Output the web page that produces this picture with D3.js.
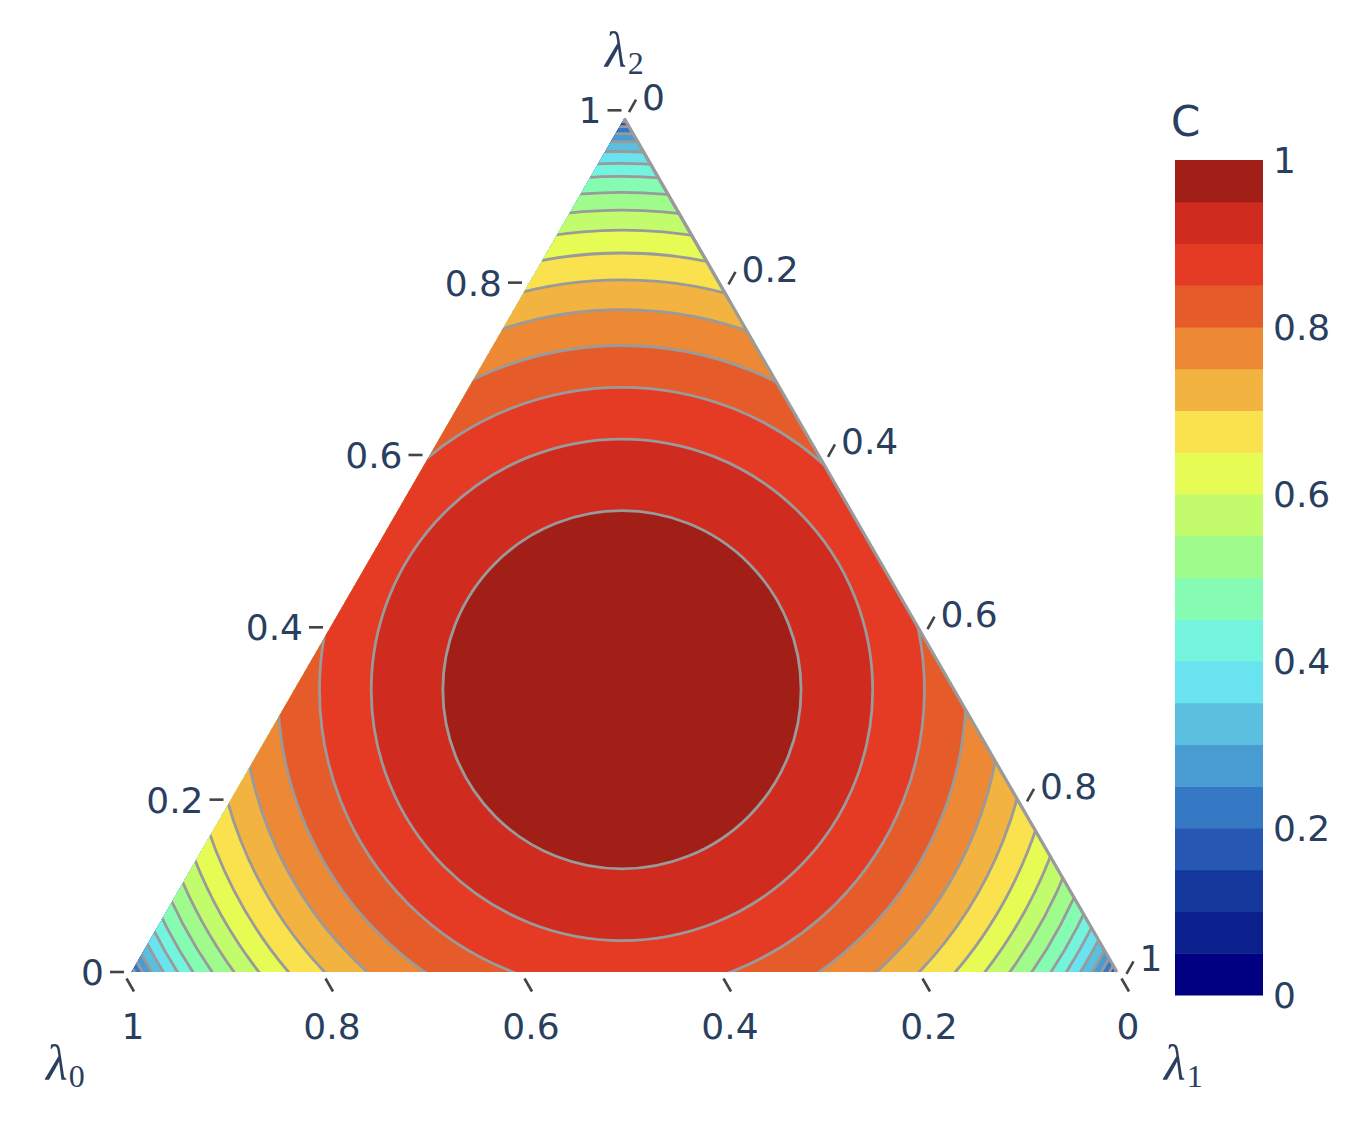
<!DOCTYPE html>
<html><head><meta charset="utf-8">
<script src="https://cdn.jsdelivr.net/npm/d3@7"></script>
<style>body{margin:0;background:#fff}svg{display:block}</style>
</head><body>
<svg id="chart" width="1362" height="1122"></svg>
<script>
// ---- data ----
const levels = [0.00,0.05,0.10,0.15,0.20,0.25,0.30,0.35,0.40,0.45,0.50,0.55,0.60,0.65,0.70,0.75,0.80,0.85,0.90,0.95];
const bandColors = ["#000080","#0b1f8d","#14379c","#2658b3","#3578c3","#499cd1","#5bbfe0","#69e3ef","#74f4dd","#86fcb3",
                    "#a0fb8d","#c2fb6b","#e7fb55","#f9e24e","#f2b340","#ed8834","#e55b2a","#e53a24","#cf2b1f","#a11f17"];
// radius of each level's contour around the centre, as fraction of the triangle side
const contourRadius = [0.577,0.577,0.575,0.571,0.566,0.559,0.551,0.541,0.529,0.516,0.500,0.482,0.462,0.439,0.412,0.382,0.346,0.304,0.252,0.180];
// centre of the contour rings (λ0, λ1, λ2)
const contourCentre = [0.3368, 0.3357, 0.3275];
const axisTicks = [0,0.2,0.4,0.6,0.8,1];
const axisTickLabels = ["0","0.2","0.4","0.6","0.8","1"];
const cbTicks = [0,0.2,0.4,0.6,0.8,1];
const cbTickLabels = ["0","0.2","0.4","0.6","0.8","1"];

// ---- layout ----
const svg = d3.select("#chart");
const BL = {x:125, y:972}, BR = {x:1120, y:972};
const L = BR.x - BL.x;
const H = L*Math.sqrt(3)/2;
const xScale = d3.scaleLinear().domain([0,1]).range([BL.x, BR.x]);
const yScale = d3.scaleLinear().domain([0,1]).range([BL.y, BL.y - H]);
const rScale = d3.scaleLinear().domain([0,1]).range([0, L]);
// l0 -> bottom-left, l1 -> bottom-right, l2 -> top
function proj(l0,l1,l2){ return [xScale(l1 + l2/2), yScale(l2)]; }
const A = proj(0,0,1), B = proj(1,0,0), Cc = proj(0,1,0);
const centre = proj(...contourCentre);

const textColor = "#2a3f5f";
const font = "'DejaVu Sans', Verdana, sans-serif";

// filled area stops a few pixels short of the vertices (as in the picture)
const fB = [B[0]+6.5, B[1]], fC = [Cc[0]-3, Cc[1]];
const fA = [(fB[0]+fC[0])/2, B[1] - (fC[0]-fB[0])*Math.sqrt(3)/2];

svg.append("clipPath").attr("id","tri").append("path")
  .attr("d", d3.line()([fA,fB,fC]) + "Z");

const g = svg.append("g").attr("clip-path","url(#tri)");
g.append("path").attr("d", d3.line()([fA,fB,fC]) + "Z").attr("fill", bandColors[0]);
const lineGrey = "#9a9a9a";
levels.forEach((lv,i)=>{
  if(i===0) return;
  g.append("circle").attr("cx", centre[0]).attr("cy", centre[1])
    .attr("r", rScale(contourRadius[i]))
    .attr("fill", bandColors[i]).attr("stroke", lineGrey).attr("stroke-width", 2.8);
});
// boundary artefacts (grey edge lines)
svg.append("path").attr("d", d3.line()([fA, fC])).attr("stroke", lineGrey).attr("stroke-width",3.2).attr("fill","none");
const leftStop = [fA[0] - (fA[1]-300)/Math.sqrt(3), 300];
svg.append("path").attr("d", d3.line()([fA, leftStop])).attr("stroke", lineGrey).attr("stroke-width",3).attr("fill","none");

// ---- axes ----
const tickColor = "#444";
const ax = svg.append("g");
// left edge : lambda_2
axisTicks.forEach((v,i)=>{
  const p = proj(1-v,0,v);
  ax.append("line").attr("x1",p[0]-15).attr("x2",p[0]-1).attr("y1",p[1]).attr("y2",p[1])
    .attr("stroke",tickColor).attr("stroke-width",2.6);
  ax.append("text").attr("x",p[0]-21).attr("y",p[1]).attr("dy","0.36em")
    .attr("text-anchor","end").attr("font-family",font).attr("font-size",36).attr("fill",textColor)
    .text(axisTickLabels[i]);
});
// bottom edge : lambda_0
axisTicks.forEach((v,i)=>{
  const p = proj(v,1-v,0);
  const sx = p[0]+1.5, sy = p[1]+6.5;
  ax.append("line").attr("x1",sx).attr("y1",sy).attr("x2",sx+7.5).attr("y2",sy+13)
    .attr("stroke",tickColor).attr("stroke-width",2.6);
  ax.append("text").attr("x",p[0]+8).attr("y",p[1]+67)
    .attr("text-anchor","middle").attr("font-family",font).attr("font-size",36).attr("fill",textColor)
    .text(axisTickLabels[i]);
});
// right edge : lambda_1
axisTicks.forEach((v,i)=>{
  const p = proj(0,v,1-v);
  const sx = p[0]+6.5, sy = p[1]+1.8;
  const ex = sx+7, ey = sy-12.5;
  ax.append("line").attr("x1",sx).attr("y1",sy).attr("x2",ex).attr("y2",ey)
    .attr("stroke",tickColor).attr("stroke-width",2.6);
  ax.append("text").attr("x",ex+6).attr("y",ey-3).attr("dy","0.36em")
    .attr("text-anchor","start").attr("font-family",font).attr("font-size",36).attr("fill",textColor)
    .text(axisTickLabels[i]);
});

// axis titles
function lambdaTitle(x,y,sub){
  const t = svg.append("text").attr("x",x).attr("y",y).attr("fill",textColor)
    .attr("font-family","'Liberation Serif', 'DejaVu Serif', serif");
  t.append("tspan").attr("font-style","italic").attr("font-size",50).text("λ");
  t.append("tspan").attr("font-size",32).attr("dy",7).attr("dx",1).text(sub);
}
lambdaTitle(605, 67, "2");
lambdaTitle(46, 1080, "0");
lambdaTitle(1164, 1080, "1");

// ---- colorbar ----
const cbX = 1175, cbW = 88;
const cbY = d3.scaleLinear().domain([0,1]).range([995,160]);
const cb = svg.append("g");
levels.forEach((lv,i)=>{
  const top = cbY(lv+0.05), bot = cbY(lv);
  cb.append("rect").attr("x",cbX).attr("y",top).attr("width",cbW).attr("height",bot-top+0.5)
    .attr("fill",bandColors[i]);
});
cbTicks.forEach((v,i)=>{
  cb.append("text").attr("x",1273).attr("y",cbY(v)).attr("dy","0.36em")
    .attr("font-family",font).attr("font-size",36).attr("fill",textColor).text(cbTickLabels[i]);
});
cb.append("text").attr("x",1171).attr("y",136).attr("font-family",font).attr("font-size",42)
  .attr("fill",textColor).text("C");
</script>
</body></html>
